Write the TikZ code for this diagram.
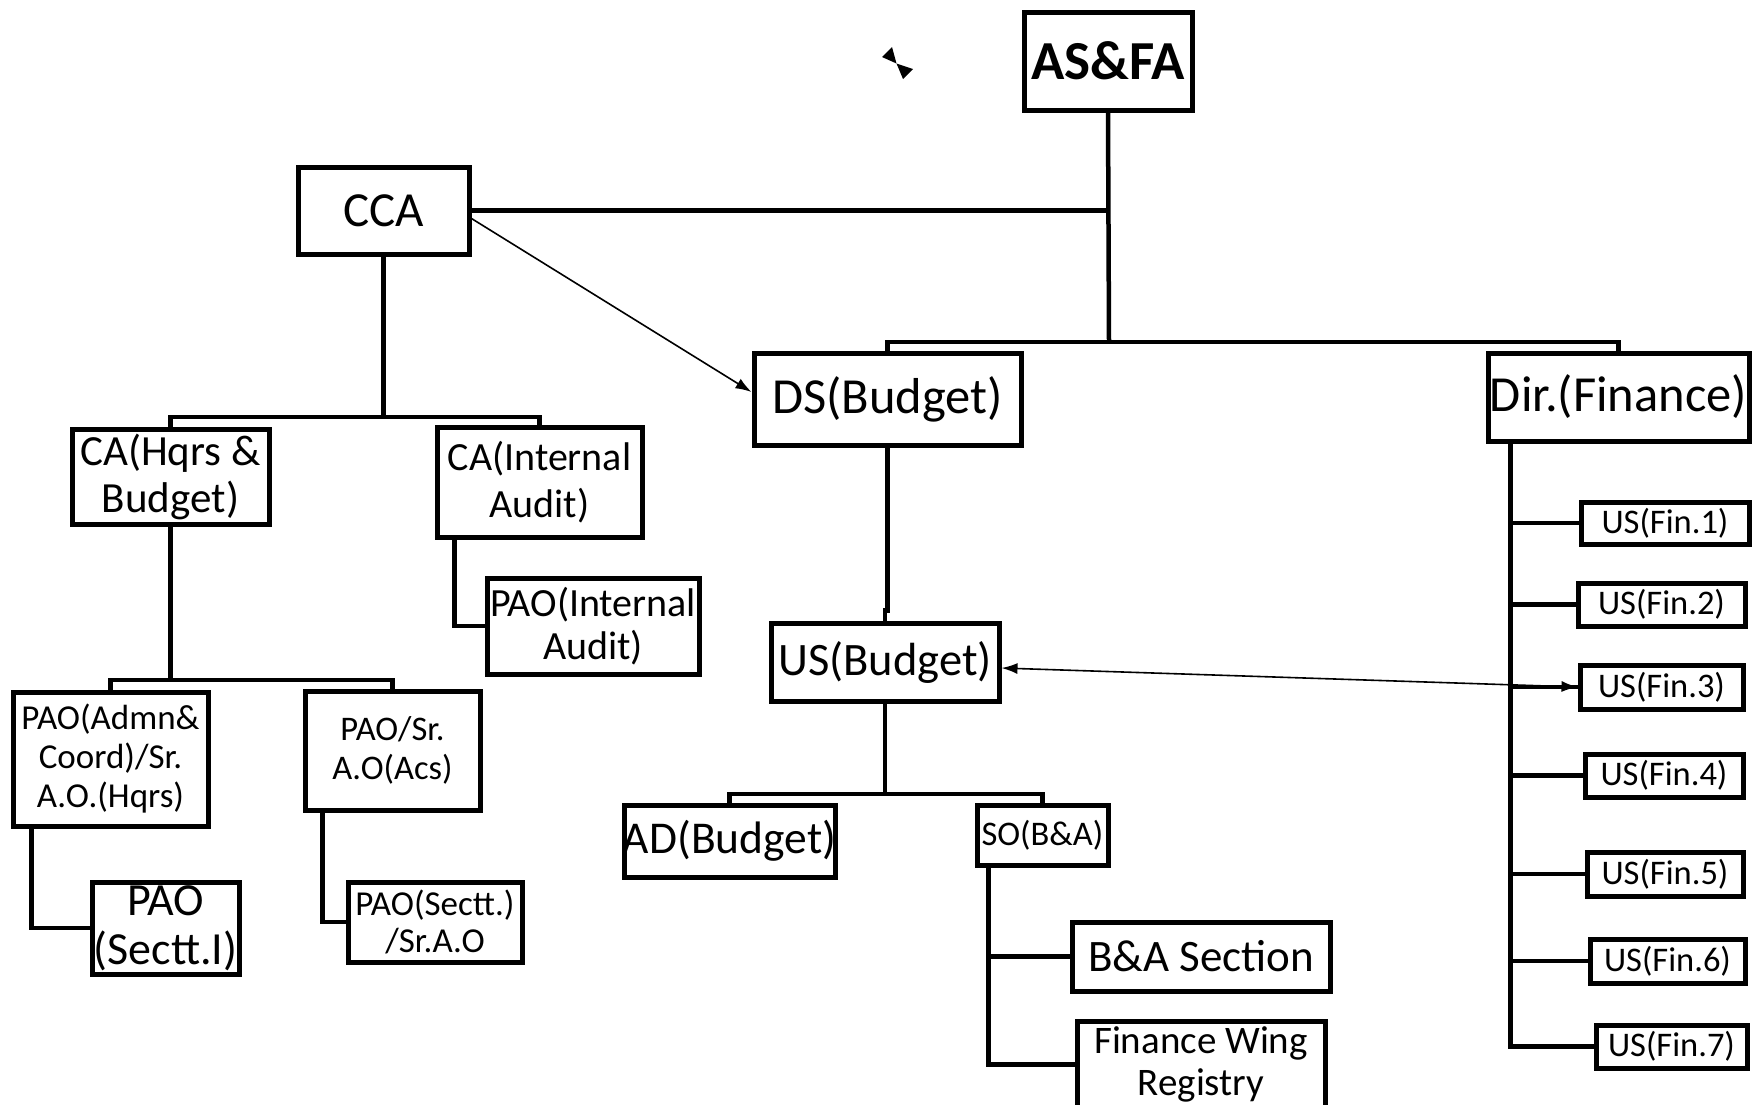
\documentclass[tikz,border=0pt]{standalone}
\usepackage{fontspec}
\setmainfont{Carlito}
\usetikzlibrary{arrows.meta}
\newcommand{\setfs}[2]{\fontsize{#1}{#2}\selectfont}
\begin{document}
\begin{tikzpicture}[x=1pt,y=-1pt,
  box/.style={draw, line width=5pt, inner sep=0pt, rectangle},
  lbl/.style={align=center, inner sep=0pt},
  conn/.style={line width=4.5pt},
  thinline/.style={line width=1.6pt},
  tip/.style={-{Latex[length=16pt,width=11pt]}},
]
\clip (0,0) rectangle (1756,1104);
\fill[white] (0,0) rectangle (1756,1104);

% ---------- boxes ----------
\node[box, minimum width=168pt, minimum height=98pt,
  label={[lbl,font=\bfseries\setfs{55}{64}]center:AS\&FA}] (asfa) at (1108,61) {};
\node[box, minimum width=171pt, minimum height=87pt,
  label={[lbl,font=\setfs{49}{56}]center:CCA}] (cca) at (383.5,210.5) {};
\node[box, minimum width=267pt, minimum height=92pt,
  label={[lbl,font=\setfs{50.5}{56}]center:DS(Budget)}] (ds) at (887.5,399) {};
\node[box, minimum width=261pt, minimum height=88pt,
  label={[lbl,font=\setfs{50.5}{56}]center:Dir.(Finance)}] (dir) at (1618.5,397) {};

\node[box, minimum width=197pt, minimum height=95pt,
  label={[lbl,font=\setfs{43}{47}]center:CA(Hqrs \&\\Budget)}] (cahq) at (170.5,476.5) {};
\node[box, minimum width=205pt, minimum height=110pt,
  label={[lbl,font=\setfs{40}{47}]center:CA(Internal\\Audit)}] (caia) at (539.5,482) {};
\node[box, minimum width=212pt, minimum height=96pt,
  label={[lbl,font=\setfs{40}{43}]center:PAO(Internal\\Audit)}] (paoia) at (593,626) {};

\node[box, minimum width=195pt, minimum height=134pt,
  label={[lbl,font=\setfs{35}{39}]center:PAO(Admn\&\\Coord)/Sr.\\A.O.(Hqrs)}] (paoadmn) at (110.5,759) {};
\node[box, minimum width=175pt, minimum height=119pt,
  label={[lbl,font=\setfs{34.5}{39}]center:PAO/Sr.\\A.O(Acs)}] (paoacs) at (392.5,750.5) {};
\node[box, minimum width=147pt, minimum height=92pt,
  label={[lbl,font=\setfs{46}{49}]center:PAO\\(Sectt.I)}] (paosi) at (165.5,928) {};
\node[box, minimum width=174pt, minimum height=80pt,
  label={[lbl,font=\setfs{35}{37}]center:PAO(Sectt.)\\/Sr.A.O}] (paosr) at (435,922) {};

\node[box, minimum width=228pt, minimum height=78pt,
  label={[lbl,font=\setfs{46.5}{52}]center:US(Budget)}] (us) at (885,662) {};
\node[box, minimum width=211pt, minimum height=72pt,
  label={[lbl,font=\setfs{45.5}{52}]center:AD(Budget)}] (ad) at (729.5,841) {};
\node[box, minimum width=131pt, minimum height=60pt,
  label={[lbl,font=\setfs{34.5}{38}]center:SO(B\&A)}] (so) at (1042.5,835) {};
\node[box, minimum width=258pt, minimum height=69pt,
  label={[lbl,font=\setfs{45}{52}]center:B\&A Section}] (ba) at (1201,956.5) {};
\node[box, minimum width=248pt, minimum height=87pt,
  label={[lbl,font=\setfs{39}{42}]center:Finance Wing\\Registry}] (fwr) at (1201,1064.5) {};

\tikzset{finlbl/.style={lbl,font=\setfs{34.5}{38}}}
\node[box, minimum width=168pt, minimum height=42pt,
  label={[finlbl]center:US(Fin.1)}] (fin1) at (1665,523) {};
\node[box, minimum width=167pt, minimum height=43pt,
  label={[finlbl]center:US(Fin.2)}] (fin2) at (1661.5,604.5) {};
\node[box, minimum width=163pt, minimum height=44pt,
  label={[finlbl]center:US(Fin.3)}] (fin3) at (1661.5,687) {};
\node[box, minimum width=158pt, minimum height=43pt,
  label={[finlbl]center:US(Fin.4)}] (fin4) at (1664,775.5) {};
\node[box, minimum width=156pt, minimum height=44pt,
  label={[finlbl]center:US(Fin.5)}] (fin5) at (1665,874) {};
\node[box, minimum width=155pt, minimum height=44pt,
  label={[finlbl]center:US(Fin.6)}] (fin6) at (1667.5,961) {};
\node[box, minimum width=151pt, minimum height=43pt,
  label={[finlbl]center:US(Fin.7)}] (fin7) at (1671.5,1046.5) {};

% ---------- connectors ----------
\coordinate (bA) at (1109,342);
\draw[conn] (asfa.south) -- (bA);
\draw[conn] (cca.east) -- (cca.east -| asfa.south);
\draw[conn] (ds.north) |- (bA) -| (dir.north);

\coordinate (bB) at (383.5,417);
\draw[conn] (cca.south) -- (bB);
\draw[conn] (cahq.north) |- (bB) -| (caia.north);

\coordinate (bC) at (170.5,680);
\draw[conn] (cahq.south) -- (bC);
\draw[conn] (paoadmn.north) |- (bC) -| (paoacs.north);

\draw[conn] ([xshift=20pt]caia.south west) |- (paoia.west);
\draw[conn] ([xshift=21pt]paoadmn.south west) |- (paosi.west);
\draw[conn] ([xshift=20pt]paoacs.south west) |- (paosr.west);

\draw[conn] (ds.south) |- ([yshift=10pt]us.north) -- (us.north);
\coordinate (bD) at (885,794);
\draw[conn] (us.south) -- (bD);
\draw[conn] (ad.north) |- (bD) -| (so.north);

\coordinate (sov) at ([xshift=14pt]so.south west);
\draw[conn] (sov) |- (fwr.west);
\draw[conn] (ba.west) -- (ba.west -| sov);

\coordinate (dirv) at ([xshift=25pt]dir.south west);
\draw[conn] (dirv) |- (fin7.west);
\foreach \n in {fin1,fin2,fin3,fin4,fin5,fin6}
  \draw[conn] (\n.west) -- (\n.west -| dirv);

% thin arrows
\draw[thinline, tip] ([yshift=-8pt]cca.east) -- ([yshift=7pt]ds.west);
\draw[thinline, {Latex[length=16pt,width=11pt]}-{Latex[length=16pt,width=11pt]}]
  ([yshift=-6pt]us.east) -- (fin3.west);

% stray pair of arrowheads (bow-tie mark)
\coordinate (btc) at (896.5,63.5);
\fill (btc) -- (882,57) -- (892,47) -- cycle;
\fill (btc) -- (913,69) -- (903,79) -- cycle;
\end{tikzpicture}
\end{document}
